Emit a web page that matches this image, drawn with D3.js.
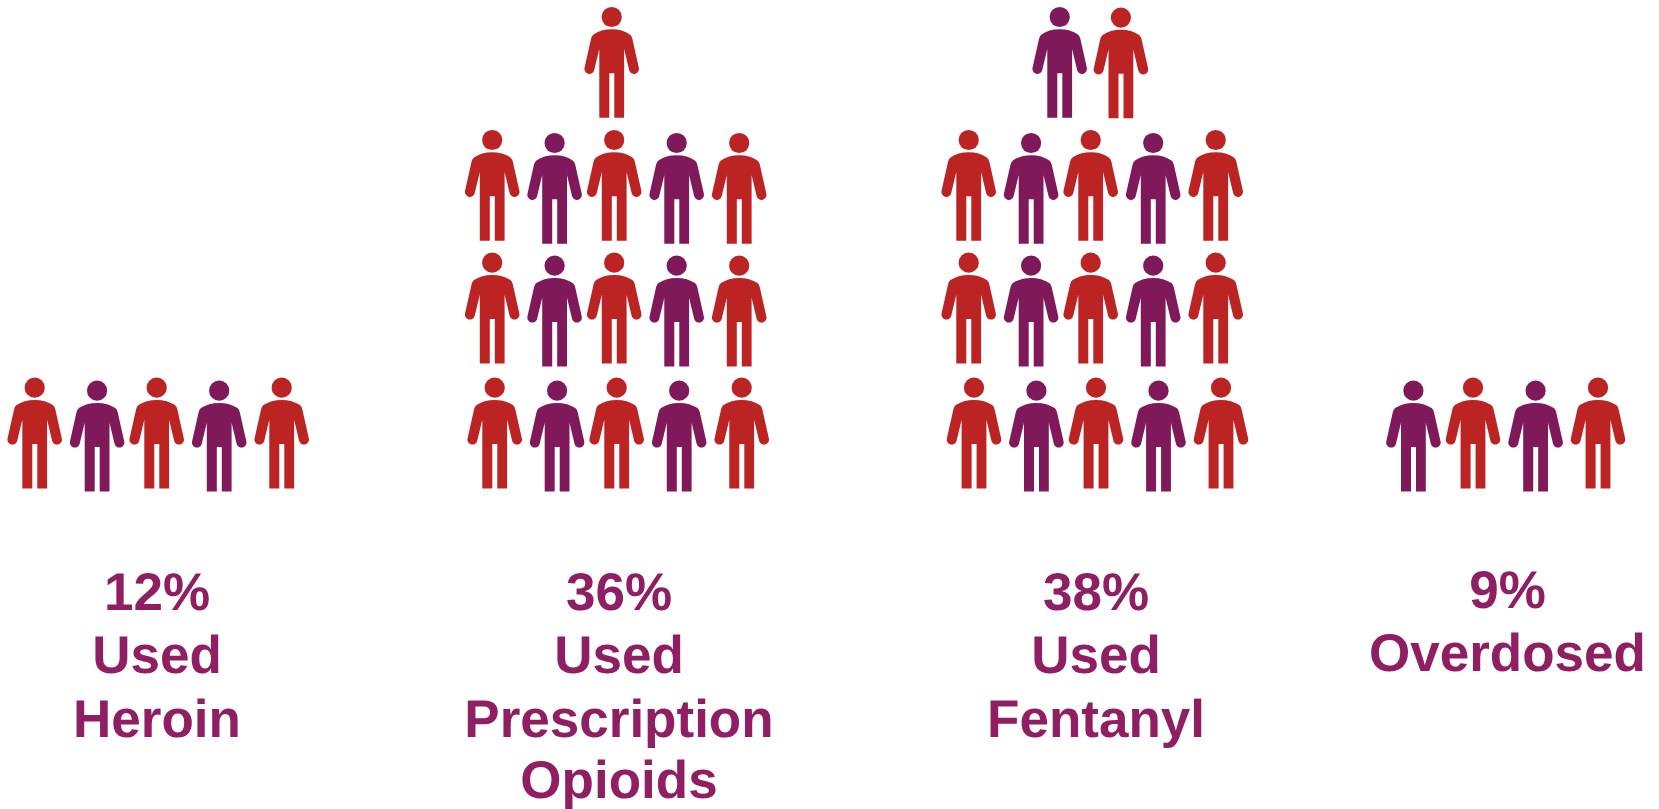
<!DOCTYPE html>
<html>
<head>
<meta charset="utf-8">
<script src="https://cdn.jsdelivr.net/npm/d3@7"></script>
<style>
  html, body { margin: 0; background: #fff; }
  svg { display: block; }
  text { font-family: "Liberation Sans", Arial, sans-serif; font-weight: 700; text-rendering: geometricPrecision; }
</style>
</head>
<body>
<div id="chart"></div>
<script>
// One entry per panel
const categories = ["Heroin", "Prescription Opioids", "Fentanyl", "Overdosed"];
const percents = [12, 36, 38, 9];
const labelLines = [
  ["12%", "Used", "Heroin"],
  ["36%", "Used", "Prescription", "Opioids"],
  ["38%", "Used", "Fentanyl"],
  ["9%", "Overdosed"]
];
// Icons per row, top row first (rows 0..3); r = red, p = purple, "." leaves a column empty
const iconRows = [
  [null, null, null, "rprpr"],
  ["..r", "rprpr", "rprpr", "rprpr"],
  [".pr", "rprpr", "rprpr", "rprpr"],
  [null, null, null, "prpr"]
];

const W = 1659, H = 809;
const RED = "#bc2424", PURPLE = "#7f1959", LABEL = "#8f1e63";

const svg = d3.select("#chart").append("svg").attr("width", W).attr("height", H);

// Head-centre height of each row
const rowY = d3.scaleOrdinal().domain([0, 1, 2, 3]).range([17, 140, 262.7, 387.7]);
// x of the left-most column, per panel and row
const panelX = [
  { 3: 34.7 },
  { 0: 489.7, 1: 492.2, 2: 492.2, 3: 494.7 },
  { 0: 997.3, 1: 968.7, 2: 968.7, 3: 974 },
  { 3: 1413.4 }
];
const colX = d3.scaleOrdinal().domain([0, 1, 2, 3, 4]).range([0, 62.4, 122, 184.5, 247]);
const overdoseColX = d3.scaleOrdinal().domain([0, 1, 2, 3]).range([0, 59.6, 122.2, 184.6]);
const labelX = d3.scaleOrdinal().domain(categories).range([157, 619, 1096, 1507.5]);
const lineY = d3.scaleOrdinal().domain([0, 1, 2, 3]).range([609.5, 673, 736.5, 797.5]);
const labelShift = d3.scaleOrdinal().domain(categories).range([0, 0, 0, -2]);

// Right-hand figures that stand level with their purple neighbours
const loweredEnds = new Set(["1-1", "1-2"]);
// The red figure beside the purple one above the fentanyl block sits slightly apart
const nudges = new Map([["2-0-2", [1.6, 0.6]]]);

// A single standing figure drawn around the centre of its head
function personPath() {
  const p = d3.path();
  p.moveTo(0, 12.2);
  p.bezierCurveTo(7, 12.2, 13.5, 14, 18.2, 17.4);
  p.quadraticCurveTo(20, 18.8, 20.6, 21.5);
  p.lineTo(27.1, 50.5);
  p.arc(22.3, 51.9, 5, -0.28, 2.87);
  p.lineTo(12.4, 32);
  p.lineTo(12.4, 100.7);
  p.lineTo(2.6, 100.7);
  p.lineTo(2.6, 56.2);
  p.lineTo(-2.4, 56.2);
  p.lineTo(-2.4, 100.7);
  p.lineTo(-12.4, 100.7);
  p.lineTo(-12.4, 32);
  p.lineTo(-17.5, 53.3);
  p.arc(-22.3, 51.9, 5, 0.27, 3.42);
  p.lineTo(-20.6, 21.5);
  p.quadraticCurveTo(-20, 18.8, -18.2, 17.4);
  p.bezierCurveTo(-13.5, 14, -7, 12.2, 0, 12.2);
  p.closePath();
  return p.toString();
}
const bodyD = personPath();

const people = [];
iconRows.forEach((rows, panel) => {
  rows.forEach((row, r) => {
    if (!row) return;
    [...row].forEach((code, c) => {
      if (code === ".") return;
      people.push({ panel, r, c, code });
    });
  });
});

const figure = svg.selectAll("g.person").data(people).join("g")
  .attr("class", "person")
  .attr("fill", d => d.code === "r" ? RED : PURPLE)
  .attr("transform", d => {
    const cols = d.panel === 3 ? overdoseColX : colX;
    const [nx, ny] = nudges.get(`${d.panel}-${d.r}-${d.c}`) || [0, 0];
    const x = panelX[d.panel][d.r] + cols(d.c) + nx;
    // Purple figures stand a little lower, except along the top row
    const lowered = (d.code === "p" && d.r > 0) || (d.c === 4 && loweredEnds.has(`${d.panel}-${d.r}`));
    return `translate(${x},${rowY(d.r) + (lowered ? 3 : 0) + ny})`;
  });
figure.append("circle").attr("r", 10.1);
figure.append("path").attr("d", bodyD);

// Labels under each panel
const labels = svg.selectAll("g.label").data(categories).join("g").attr("class", "label");
labels.each(function (cat, i) {
  d3.select(this).selectAll("text").data(labelLines[i]).join("text")
    .attr("x", labelX(cat))
    .attr("y", (d, j) => lineY(j) + labelShift(cat))
    .attr("text-anchor", "middle")
    .attr("font-size", 53)
    .attr("fill", LABEL)
    .text(d => d);
});
</script>
</body>
</html>
